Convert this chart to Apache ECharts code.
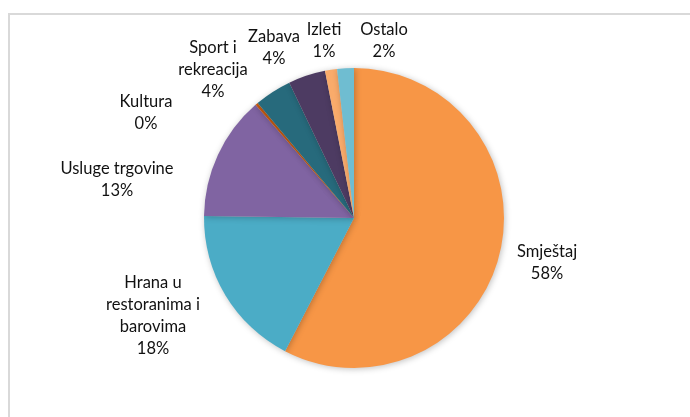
<!DOCTYPE html>
<html>
<head>
<meta charset="utf-8">
<script src="https://cdn.jsdelivr.net/npm/echarts@6/dist/echarts.min.js"></script>
<style>
  html, body { margin: 0; padding: 0; background: #fff; }
  #chart { width: 690px; height: 417px; }
</style>
</head>
<body>
<div id="chart"></div>
<script>
// kategorije i udjeli (%), redom u smjeru kazaljke od 12 sati
const categories = ['Smještaj', 'Hrana u\nrestoranima i\nbarovima', 'Usluge trgovine', 'Kultura',
  'Sport i\nrekreacija', 'Zabava', 'Izleti', 'Ostalo']
const shares = [57.6, 17.6, 13.4, 0.3, 4.0, 4.0, 1.3, 1.8]
const colors = ['#F79646', '#4BACC6', '#8064A2', '#C55A11', '#276A7C', '#4D3B62', '#F9AB6B', '#6FBDD1']

// položaj središta svake oznake (kao u Excelu)
const labelPos = [[547, 263], [153, 316], [117, 180], [146, 113], [213, 70], [274, 48], [324, 41], [384, 41]]

const chart = echarts.init(document.getElementById('chart'), null, { renderer: 'canvas' })

chart.setOption({
  animation: false,
  backgroundColor: '#fff',
  graphic: [{
    type: 'rect',
    shape: { x: 9, y: 14, width: 700, height: 420 },
    style: { fill: '#fff', stroke: '#D9D9D9', lineWidth: 2 },
    z: -10
  }],
  series: [{
    type: 'pie',
    center: [354, 218],
    radius: 150,
    startAngle: 90,
    clockwise: true,
    data: categories.map((name, i) => ({
      name,
      value: shares[i],
      itemStyle: { color: colors[i] }
    })),
    itemStyle: {
      shadowBlur: 6,
      shadowColor: 'rgba(0,0,0,0.25)',
      shadowOffsetX: 1,
      shadowOffsetY: 1
    },
    label: {
      show: true,
      position: 'outside',
      formatter: p => p.name + '\n' + Math.round(p.value) + '%',
      fontFamily: 'Lato',
      fontSize: 16.5,
      lineHeight: 22,
      color: '#111',
      align: 'center'
    },
    labelLine: { show: false },
    labelLayout: params => ({
      x: labelPos[params.dataIndex][0],
      y: labelPos[params.dataIndex][1],
      align: 'center',
      verticalAlign: 'middle'
    }),
    emphasis: { disabled: true }
  }]
})
</script>
</body>
</html>
